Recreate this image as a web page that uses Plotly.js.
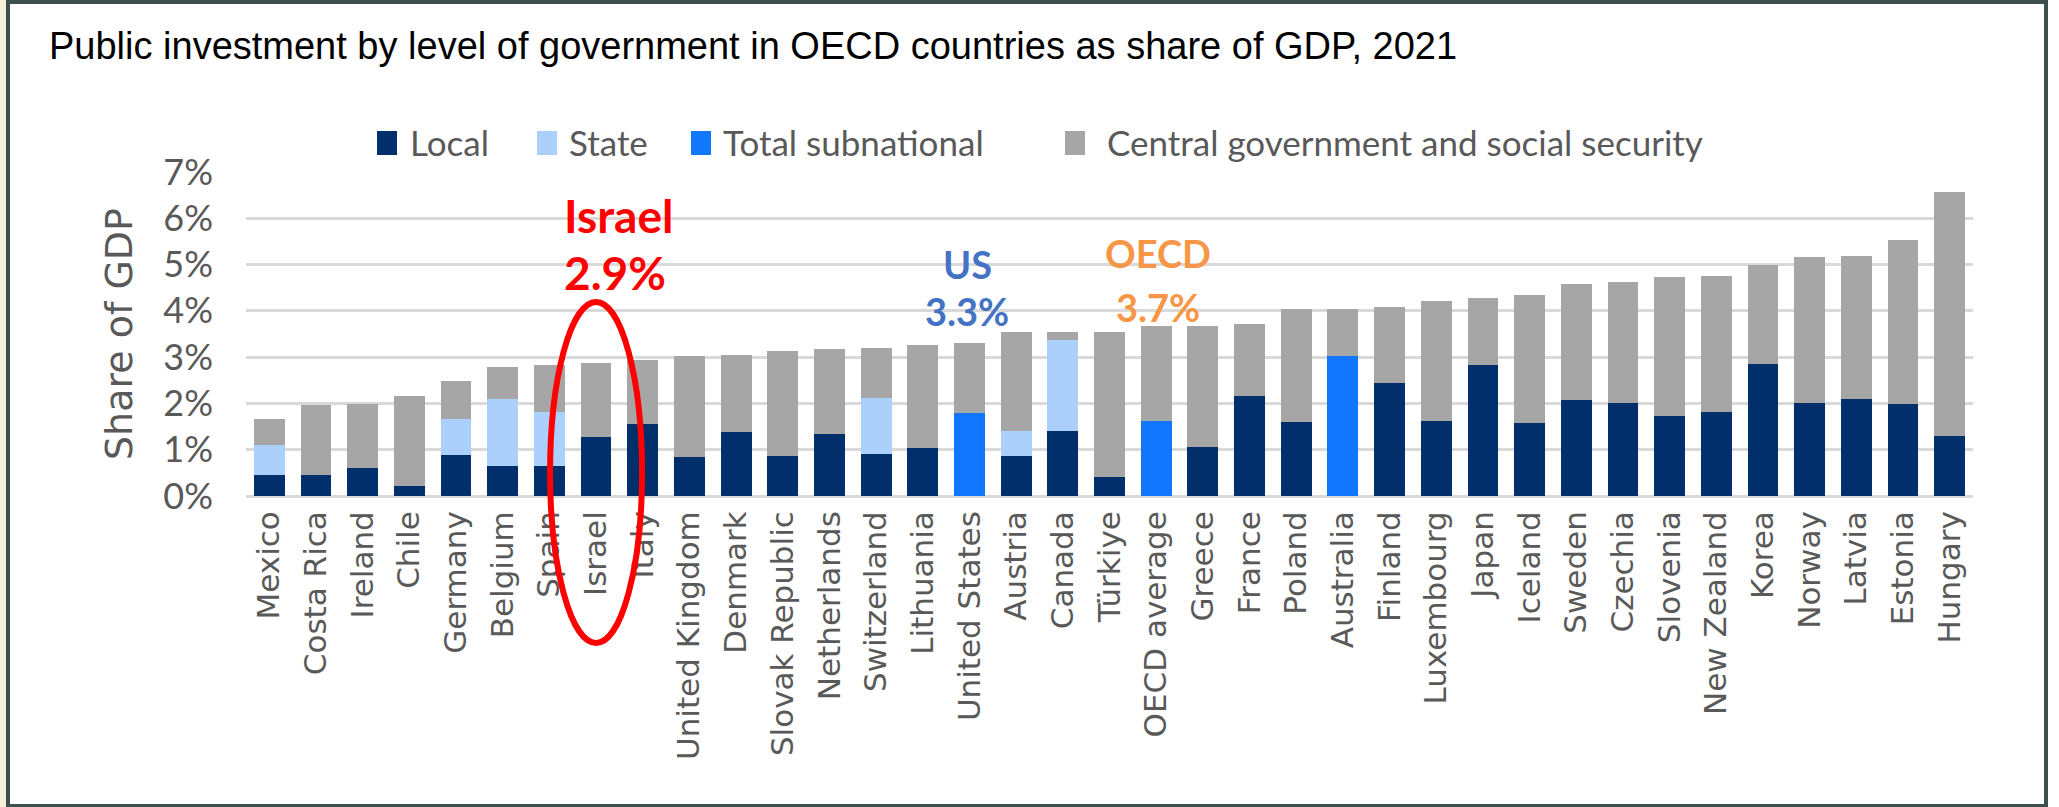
<!DOCTYPE html>
<html>
<head>
<meta charset="utf-8">
<script src="https://cdn.plot.ly/plotly-3.0.1.min.js"></script>
<style>
  html, body { margin: 0; padding: 0; background: #ffffff; }
  #wrap { position: relative; width: 2059px; height: 807px; overflow: hidden; }
  #chart { position: absolute; left: 0; top: 0; width: 2059px; height: 807px; }
  #strip { position: absolute; left: 0; top: 0; width: 6px; height: 807px; background: #f5f0d9; pointer-events: none; }
  #frame { position: absolute; left: 6px; top: 0px; width: 2034px; height: 800px; border: 4px solid #3e4f4f; pointer-events: none; }
</style>
</head>
<body>
<div id="wrap">
  <div id="chart"></div>
  <div id="strip"></div>
  <div id="frame"></div>
</div>
<script>
// ---- data (share of GDP, %) ----
const categories = ['Mexico','Costa Rica','Ireland','Chile','Germany','Belgium','Spain','Israel','Italy',
  'United Kingdom','Denmark','Slovak Republic','Netherlands','Switzerland','Lithuania','United States',
  'Austria','Canada','Türkiye','OECD average','Greece','France','Poland','Australia','Finland','Luxembourg',
  'Japan','Iceland','Sweden','Czechia','Slovenia','New Zealand','Korea','Norway','Latvia','Estonia','Hungary'];

const local = [0.46,0.46,0.60,0.22,0.88,0.64,0.64,1.27,1.55,
  0.84,1.39,0.87,1.34,0.91,1.03,null,
  0.86,1.41,0.41,null,1.06,2.15,1.59,null,2.44,1.62,
  2.83,1.58,2.08,2.01,1.73,1.81,2.86,2.01,2.10,1.98,1.30];

const state = [0.65,null,null,null,0.78,1.45,1.17,null,null,
  null,null,null,null,1.21,null,null,
  0.55,1.95,null,null,null,null,null,null,null,null,
  null,null,null,null,null,null,null,null,null,null,null];

const totalSubnational = [null,null,null,null,null,null,null,null,null,
  null,null,null,null,null,null,1.79,
  null,null,null,1.62,null,null,null,3.03,null,null,
  null,null,null,null,null,null,null,null,null,null,null];

const central = [0.56,1.50,1.38,1.93,0.83,0.69,1.01,1.61,1.38,
  2.18,1.65,2.26,1.84,1.07,2.23,1.52,
  2.14,0.19,3.14,2.06,2.61,1.57,2.45,1.01,1.64,2.60,
  1.45,2.77,2.49,2.61,3.00,2.95,2.13,3.15,3.09,3.55,5.27];

const seriesNames = ['Local','State','Total subnational','Central government and social security'];
const yTicks = [0,1,2,3,4,5,6,7];
const yTickLabels = ['0%','1%','2%','3%','4%','5%','6%','7%'];

// highlighted callouts
const callouts = [
  {cat: 'Israel', name: 'Israel', value: '2.9%'},
  {cat: 'United States', name: 'US', value: '3.3%'},
  {cat: 'OECD average', name: 'OECD', value: '3.7%'}
];

// ---- layout geometry (pixels in the 2059x807 picture) ----
const W = 2059, H = 807;
const M = {l: 246, r: 86, t: 172, b: 311};
const PW = W - M.l - M.r, PH = H - M.t - M.b;
const px = x => (x - M.l) / PW;      // pixel x -> paper x
const py = y => (H - M.b - y) / PH;  // pixel y -> paper y

const colors = ['#002f6c', '#abd0fb', '#1077fe', '#a6a6a6'];
const grey = '#595959';
const calibriLike = 'Lato, "Open Sans", sans-serif';
const verdanaLike = '"DejaVu Sans", Verdana, sans-serif';

const seriesData = [local, state, totalSubnational, central];
const traces = seriesData.map((vals, i) => ({
  type: 'bar',
  name: seriesNames[i],
  x: categories,
  y: vals,
  marker: {color: colors[i], line: {width: 0}},
  showlegend: false,
  hoverinfo: 'x+y+name'
}));

const shapes = [];
const annotations = [];

// legend (drawn as shapes + text to match item spacing)
const legendItems = [
  {sq: 377, tx: 408},
  {sq: 537, tx: 567},
  {sq: 691, tx: 721},
  {sq: 1065, tx: 1105}
];
legendItems.forEach((it, i) => {
  shapes.push({type: 'rect', xref: 'paper', yref: 'paper', layer: 'above',
    x0: px(it.sq), x1: px(it.sq + 20), y0: py(155), y1: py(131),
    fillcolor: colors[i], line: {width: 0}});
  annotations.push({xref: 'paper', yref: 'paper', x: px(it.tx), y: py(142),
    xanchor: 'left', yanchor: 'middle', showarrow: false, text: seriesNames[i],
    font: {family: calibriLike, size: 35, color: grey}});
});

// white patch where the legend box hides the top gridline
shapes.push({type: 'rect', xref: 'paper', yref: 'paper', layer: 'between',
  x0: px(1432), x1: px(1812), y0: py(180), y1: py(160),
  fillcolor: '#ffffff', line: {width: 0}});

// red ellipse around Israel
shapes.push({type: 'circle', xref: 'x', xsizemode: 'pixel', xanchor: 'Israel',
  x0: -46, x1: 46, yref: 'paper', y0: py(643), y1: py(302),
  line: {color: '#ff0000', width: 6}, layer: 'above'});

// callout texts
const calloutStyle = [
  {color: '#ff0000', size: 46, xanchor: 'left', xshift: -34, y1: 6.05, y2: 4.83},
  {color: '#4472c4', size: 38, xanchor: 'center', xshift: -2, y1: 5.02, y2: 3.99},
  {color: '#f79646', size: 38, xanchor: 'center', xshift: 2, y1: 5.24, y2: 4.08}
];
callouts.forEach((c, i) => {
  const s = calloutStyle[i];
  annotations.push({xref: 'x', yref: 'y', x: c.cat, y: s.y1, xanchor: s.xanchor, xshift: s.xshift,
    yanchor: 'middle', showarrow: false, text: '<b>' + c.name + '</b>',
    font: {family: calibriLike, size: s.size, color: s.color}});
  annotations.push({xref: 'x', yref: 'y', x: c.cat, y: s.y2, xanchor: s.xanchor, xshift: s.xshift,
    yanchor: 'middle', showarrow: false, text: '<b>' + c.value + '</b>',
    font: {family: calibriLike, size: s.size, color: s.color}});
});

const layout = {
  width: W, height: H,
  margin: M,
  paper_bgcolor: 'rgba(0,0,0,0)',
  plot_bgcolor: 'rgba(0,0,0,0)',
  barmode: 'stack',
  bargap: 0.34,
  title: {
    text: 'Public investment by level of government in OECD countries as share of GDP, 2021',
    xref: 'container', yref: 'container', x: 49 / W, xanchor: 'left', y: 1 - 46 / H, yanchor: 'middle',
    font: {family: '"Liberation Sans Narrow", "Arial Narrow", "Liberation Sans", Arial, sans-serif', size: 38, color: '#000000'}
  },
  xaxis: {
    type: 'category',
    categoryorder: 'array', categoryarray: categories,
    tickangle: -90,
    tickfont: {family: verdanaLike, size: 31, color: grey},
    ticks: '', showline: false, showgrid: false,
    ticklabelstandoff: 8,
    automargin: false, fixedrange: true
  },
  yaxis: {
    range: [0, 7],
    tickvals: yTicks, ticktext: yTickLabels,
    tickfont: {family: calibriLike, size: 36, color: grey},
    showgrid: true, gridcolor: '#d9d9d9', gridwidth: 3,
    zeroline: true, zerolinecolor: '#d9d9d9', zerolinewidth: 3,
    showline: false, ticks: '',
    ticklabelstandoff: 32,
    title: {text: 'Share of GDP', font: {family: verdanaLike, size: 38, color: grey}, standoff: 18},
    automargin: false, fixedrange: true
  },
  shapes: shapes,
  annotations: annotations
};

Plotly.newPlot('chart', traces, layout, {displayModeBar: false, staticPlot: true});
</script>
</body>
</html>
